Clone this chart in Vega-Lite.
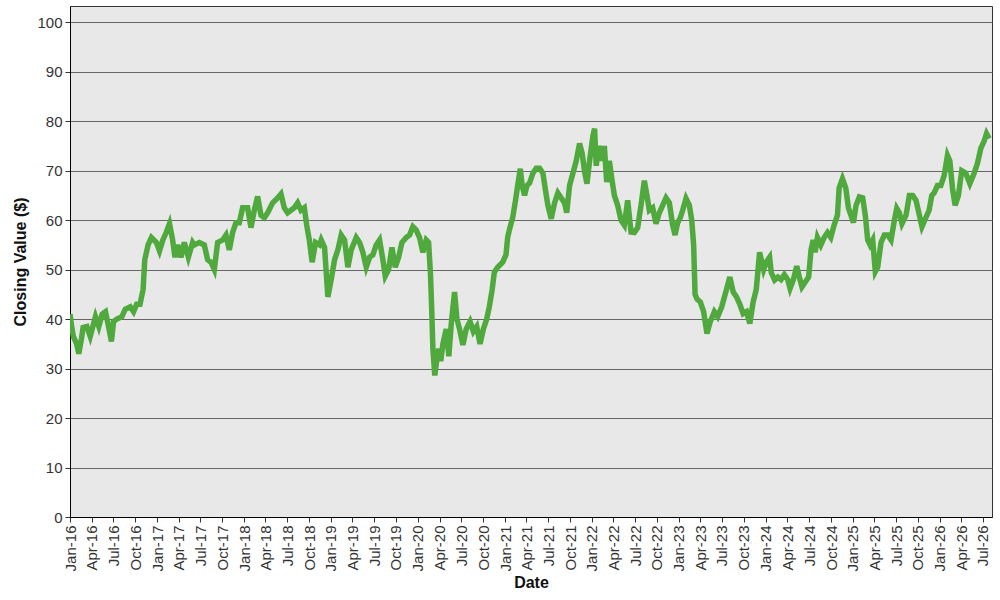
{
  "$schema": "https://vega.github.io/schema/vega-lite/v6.json",
  "description": "Daily closing value, Jan 2016 - Jul 2026",
  "autosize": {"type": "none"},
  "width": 922,
  "height": 511,
  "padding": {"left": 70, "top": 6, "right": 8, "bottom": 83},
  "background": "white",
  "config": {
    "view": {"fill": "#e8e8e8", "stroke": "#333333", "strokeWidth": 1},
    "font": "Liberation Sans",
    "axis": {
      "labelFont": "Liberation Sans",
      "labelFontSize": 15,
      "labelColor": "#333333",
      "titleFont": "Liberation Sans",
      "titleFontSize": 16,
      "titleFontWeight": "bold",
      "titleColor": "#111111",
      "domainColor": "#000000",
      "tickColor": "#333333",
      "tickSize": 5
    }
  },
  "data": {
    "values": [
      {"date": "2016-01-01", "close": 41},
      {"date": "2016-01-08", "close": 38.5},
      {"date": "2016-01-15", "close": 36.5},
      {"date": "2016-01-29", "close": 35},
      {"date": "2016-02-07", "close": 33},
      {"date": "2016-02-18", "close": 36},
      {"date": "2016-02-25", "close": 38.3},
      {"date": "2016-03-12", "close": 38.5},
      {"date": "2016-03-26", "close": 36.5},
      {"date": "2016-04-17", "close": 40.5},
      {"date": "2016-05-01", "close": 38.5},
      {"date": "2016-05-15", "close": 41},
      {"date": "2016-05-29", "close": 41.5},
      {"date": "2016-06-09", "close": 39},
      {"date": "2016-06-23", "close": 35.5},
      {"date": "2016-07-02", "close": 39.5},
      {"date": "2016-07-16", "close": 40},
      {"date": "2016-08-06", "close": 40.5},
      {"date": "2016-08-20", "close": 42},
      {"date": "2016-09-10", "close": 42.5},
      {"date": "2016-09-24", "close": 41.5},
      {"date": "2016-10-07", "close": 43},
      {"date": "2016-10-21", "close": 43},
      {"date": "2016-11-03", "close": 46},
      {"date": "2016-11-10", "close": 52},
      {"date": "2016-11-24", "close": 55},
      {"date": "2016-12-08", "close": 56.5},
      {"date": "2016-12-29", "close": 55.5},
      {"date": "2017-01-11", "close": 53.8},
      {"date": "2017-01-25", "close": 56},
      {"date": "2017-02-08", "close": 57.5},
      {"date": "2017-02-22", "close": 59.3},
      {"date": "2017-03-07", "close": 56},
      {"date": "2017-03-17", "close": 52.5},
      {"date": "2017-03-28", "close": 55},
      {"date": "2017-04-11", "close": 52.5},
      {"date": "2017-04-25", "close": 55.5},
      {"date": "2017-05-12", "close": 52.5},
      {"date": "2017-05-30", "close": 55.5},
      {"date": "2017-06-06", "close": 55},
      {"date": "2017-06-27", "close": 55.5},
      {"date": "2017-07-18", "close": 55},
      {"date": "2017-08-01", "close": 52},
      {"date": "2017-08-15", "close": 51.5},
      {"date": "2017-08-29", "close": 50},
      {"date": "2017-09-12", "close": 55.5},
      {"date": "2017-10-03", "close": 56},
      {"date": "2017-10-17", "close": 57},
      {"date": "2017-10-31", "close": 54},
      {"date": "2017-11-14", "close": 57.5},
      {"date": "2017-11-28", "close": 59.5},
      {"date": "2017-12-12", "close": 59.5},
      {"date": "2017-12-26", "close": 62.5},
      {"date": "2018-01-16", "close": 62.5},
      {"date": "2018-01-30", "close": 58.5},
      {"date": "2018-02-13", "close": 62},
      {"date": "2018-02-27", "close": 64.8},
      {"date": "2018-03-13", "close": 61},
      {"date": "2018-03-27", "close": 60.5},
      {"date": "2018-04-10", "close": 61.5},
      {"date": "2018-05-01", "close": 63.5},
      {"date": "2018-05-22", "close": 64.5},
      {"date": "2018-06-05", "close": 65.3},
      {"date": "2018-06-19", "close": 62.5},
      {"date": "2018-07-03", "close": 61.5},
      {"date": "2018-07-17", "close": 62},
      {"date": "2018-07-31", "close": 62.5},
      {"date": "2018-08-14", "close": 63.5},
      {"date": "2018-08-28", "close": 62},
      {"date": "2018-09-11", "close": 62.5},
      {"date": "2018-09-21", "close": 59},
      {"date": "2018-10-02", "close": 56},
      {"date": "2018-10-14", "close": 51.5},
      {"date": "2018-10-28", "close": 55.5},
      {"date": "2018-11-14", "close": 55},
      {"date": "2018-11-21", "close": 56},
      {"date": "2018-12-05", "close": 54.5},
      {"date": "2018-12-19", "close": 44.5},
      {"date": "2019-01-02", "close": 48},
      {"date": "2019-01-16", "close": 52},
      {"date": "2019-01-30", "close": 54},
      {"date": "2019-02-13", "close": 57},
      {"date": "2019-02-27", "close": 56},
      {"date": "2019-03-13", "close": 50.5},
      {"date": "2019-03-27", "close": 54},
      {"date": "2019-04-17", "close": 56.5},
      {"date": "2019-05-01", "close": 55.5},
      {"date": "2019-05-15", "close": 53.5},
      {"date": "2019-05-29", "close": 50.5},
      {"date": "2019-06-12", "close": 52.5},
      {"date": "2019-06-26", "close": 53},
      {"date": "2019-07-10", "close": 55},
      {"date": "2019-07-24", "close": 56},
      {"date": "2019-08-07", "close": 52},
      {"date": "2019-08-17", "close": 48.7},
      {"date": "2019-08-31", "close": 50},
      {"date": "2019-09-14", "close": 54.5},
      {"date": "2019-09-28", "close": 50.5},
      {"date": "2019-10-12", "close": 52.5},
      {"date": "2019-10-26", "close": 55.5},
      {"date": "2019-11-13", "close": 56.5},
      {"date": "2019-11-27", "close": 57},
      {"date": "2019-12-11", "close": 58.7},
      {"date": "2019-12-25", "close": 58},
      {"date": "2020-01-08", "close": 56.5},
      {"date": "2020-01-22", "close": 53.5},
      {"date": "2020-02-05", "close": 56},
      {"date": "2020-02-15", "close": 55.5},
      {"date": "2020-02-23", "close": 49},
      {"date": "2020-02-28", "close": 42},
      {"date": "2020-03-04", "close": 34},
      {"date": "2020-03-12", "close": 28.6},
      {"date": "2020-03-21", "close": 32},
      {"date": "2020-03-29", "close": 34},
      {"date": "2020-04-06", "close": 31.5},
      {"date": "2020-04-15", "close": 35},
      {"date": "2020-04-29", "close": 38},
      {"date": "2020-05-10", "close": 32.5},
      {"date": "2020-05-20", "close": 39},
      {"date": "2020-06-03", "close": 45.5},
      {"date": "2020-06-13", "close": 40},
      {"date": "2020-06-24", "close": 38},
      {"date": "2020-07-08", "close": 34.8},
      {"date": "2020-07-22", "close": 38},
      {"date": "2020-08-07", "close": 39.5},
      {"date": "2020-08-21", "close": 37.5},
      {"date": "2020-09-04", "close": 38.5},
      {"date": "2020-09-18", "close": 35},
      {"date": "2020-10-02", "close": 38},
      {"date": "2020-10-16", "close": 40},
      {"date": "2020-10-27", "close": 42.5},
      {"date": "2020-11-08", "close": 46},
      {"date": "2020-11-17", "close": 49.5},
      {"date": "2020-12-01", "close": 50.5},
      {"date": "2020-12-22", "close": 51.5},
      {"date": "2021-01-05", "close": 53},
      {"date": "2021-01-12", "close": 56.5},
      {"date": "2021-01-19", "close": 58},
      {"date": "2021-02-02", "close": 60.5},
      {"date": "2021-02-14", "close": 64},
      {"date": "2021-02-23", "close": 67},
      {"date": "2021-03-06", "close": 70.4},
      {"date": "2021-03-14", "close": 67},
      {"date": "2021-03-24", "close": 65},
      {"date": "2021-04-03", "close": 67},
      {"date": "2021-04-14", "close": 67.5},
      {"date": "2021-04-28", "close": 69.5},
      {"date": "2021-05-12", "close": 70.5},
      {"date": "2021-05-26", "close": 70.5},
      {"date": "2021-06-09", "close": 69.5},
      {"date": "2021-06-20", "close": 66},
      {"date": "2021-06-30", "close": 63},
      {"date": "2021-07-14", "close": 60.3},
      {"date": "2021-07-28", "close": 63.5},
      {"date": "2021-08-11", "close": 65.5},
      {"date": "2021-08-25", "close": 64.5},
      {"date": "2021-09-08", "close": 63.5},
      {"date": "2021-09-17", "close": 61.5},
      {"date": "2021-09-29", "close": 67},
      {"date": "2021-10-13", "close": 69.5},
      {"date": "2021-10-27", "close": 72},
      {"date": "2021-11-10", "close": 75.5},
      {"date": "2021-11-21", "close": 73.5},
      {"date": "2021-12-01", "close": 69.8},
      {"date": "2021-12-11", "close": 67.4},
      {"date": "2021-12-22", "close": 72},
      {"date": "2022-01-05", "close": 77},
      {"date": "2022-01-12", "close": 78.5},
      {"date": "2022-01-19", "close": 71},
      {"date": "2022-01-23", "close": 73},
      {"date": "2022-02-01", "close": 75},
      {"date": "2022-02-11", "close": 72},
      {"date": "2022-02-22", "close": 75},
      {"date": "2022-03-04", "close": 67.7},
      {"date": "2022-03-15", "close": 72},
      {"date": "2022-03-25", "close": 68.5},
      {"date": "2022-04-05", "close": 65},
      {"date": "2022-04-19", "close": 63},
      {"date": "2022-05-03", "close": 60},
      {"date": "2022-05-17", "close": 59},
      {"date": "2022-05-31", "close": 64},
      {"date": "2022-06-14", "close": 57.6},
      {"date": "2022-06-28", "close": 57.5},
      {"date": "2022-07-12", "close": 58.5},
      {"date": "2022-07-26", "close": 63},
      {"date": "2022-08-09", "close": 68},
      {"date": "2022-08-20", "close": 65},
      {"date": "2022-08-30", "close": 62},
      {"date": "2022-09-13", "close": 62.5},
      {"date": "2022-09-27", "close": 59.3},
      {"date": "2022-10-11", "close": 61.5},
      {"date": "2022-10-25", "close": 63},
      {"date": "2022-11-08", "close": 64.5},
      {"date": "2022-11-22", "close": 63.5},
      {"date": "2022-12-06", "close": 59},
      {"date": "2022-12-16", "close": 57},
      {"date": "2022-12-27", "close": 59.5},
      {"date": "2023-01-07", "close": 60.5},
      {"date": "2023-01-17", "close": 62},
      {"date": "2023-01-31", "close": 64.4},
      {"date": "2023-02-14", "close": 63},
      {"date": "2023-02-24", "close": 60},
      {"date": "2023-03-04", "close": 55},
      {"date": "2023-03-10", "close": 45},
      {"date": "2023-03-19", "close": 44},
      {"date": "2023-04-01", "close": 43.5},
      {"date": "2023-04-15", "close": 41.5},
      {"date": "2023-04-29", "close": 37.1},
      {"date": "2023-05-13", "close": 39.5},
      {"date": "2023-05-30", "close": 41.5},
      {"date": "2023-06-13", "close": 40.5},
      {"date": "2023-06-30", "close": 42.5},
      {"date": "2023-07-20", "close": 46},
      {"date": "2023-08-03", "close": 48.5},
      {"date": "2023-08-17", "close": 45.5},
      {"date": "2023-08-31", "close": 44.5},
      {"date": "2023-09-14", "close": 43},
      {"date": "2023-09-28", "close": 41.1},
      {"date": "2023-10-12", "close": 41.5},
      {"date": "2023-10-26", "close": 39.1},
      {"date": "2023-11-09", "close": 43.5},
      {"date": "2023-11-22", "close": 46},
      {"date": "2023-12-06", "close": 53.5},
      {"date": "2023-12-23", "close": 50},
      {"date": "2024-01-03", "close": 51.5},
      {"date": "2024-01-17", "close": 52.5},
      {"date": "2024-01-24", "close": 49.4},
      {"date": "2024-02-07", "close": 47.9},
      {"date": "2024-02-21", "close": 48.5},
      {"date": "2024-03-05", "close": 48},
      {"date": "2024-03-19", "close": 49},
      {"date": "2024-04-02", "close": 48},
      {"date": "2024-04-12", "close": 46.2},
      {"date": "2024-04-26", "close": 48},
      {"date": "2024-05-10", "close": 50.7},
      {"date": "2024-05-21", "close": 48.5},
      {"date": "2024-06-01", "close": 46.5},
      {"date": "2024-06-15", "close": 47.5},
      {"date": "2024-06-29", "close": 48.5},
      {"date": "2024-07-09", "close": 54},
      {"date": "2024-07-18", "close": 56},
      {"date": "2024-07-26", "close": 53.5},
      {"date": "2024-08-05", "close": 56.5},
      {"date": "2024-08-19", "close": 55},
      {"date": "2024-09-02", "close": 56.5},
      {"date": "2024-09-16", "close": 57.5},
      {"date": "2024-09-30", "close": 56.5},
      {"date": "2024-10-14", "close": 59},
      {"date": "2024-10-28", "close": 61},
      {"date": "2024-11-04", "close": 66.5},
      {"date": "2024-11-18", "close": 68.4},
      {"date": "2024-12-02", "close": 66.5},
      {"date": "2024-12-13", "close": 62.5},
      {"date": "2025-01-03", "close": 59.5},
      {"date": "2025-01-14", "close": 63},
      {"date": "2025-01-28", "close": 64.7},
      {"date": "2025-02-11", "close": 64.5},
      {"date": "2025-02-22", "close": 61},
      {"date": "2025-03-04", "close": 56},
      {"date": "2025-03-14", "close": 55},
      {"date": "2025-03-25", "close": 56},
      {"date": "2025-04-05", "close": 49.6},
      {"date": "2025-04-15", "close": 50.5},
      {"date": "2025-04-29", "close": 55.5},
      {"date": "2025-05-13", "close": 57},
      {"date": "2025-05-27", "close": 57},
      {"date": "2025-06-10", "close": 56},
      {"date": "2025-06-24", "close": 60},
      {"date": "2025-07-04", "close": 62.4},
      {"date": "2025-07-15", "close": 61.5},
      {"date": "2025-07-26", "close": 59.3},
      {"date": "2025-08-12", "close": 61},
      {"date": "2025-08-26", "close": 65},
      {"date": "2025-09-09", "close": 65},
      {"date": "2025-09-23", "close": 64},
      {"date": "2025-10-07", "close": 61},
      {"date": "2025-10-18", "close": 58.7},
      {"date": "2025-11-03", "close": 60.5},
      {"date": "2025-11-17", "close": 62},
      {"date": "2025-11-28", "close": 65},
      {"date": "2025-12-08", "close": 65.5},
      {"date": "2025-12-22", "close": 67},
      {"date": "2026-01-05", "close": 67},
      {"date": "2026-01-19", "close": 69},
      {"date": "2026-02-02", "close": 73.1},
      {"date": "2026-02-12", "close": 72},
      {"date": "2026-02-23", "close": 66.5},
      {"date": "2026-03-06", "close": 63},
      {"date": "2026-03-20", "close": 65},
      {"date": "2026-04-03", "close": 70},
      {"date": "2026-04-20", "close": 69.5},
      {"date": "2026-05-07", "close": 67.4},
      {"date": "2026-05-25", "close": 69.5},
      {"date": "2026-06-08", "close": 71.5},
      {"date": "2026-06-22", "close": 74.5},
      {"date": "2026-07-06", "close": 76},
      {"date": "2026-07-16", "close": 77.5},
      {"date": "2026-07-27", "close": 76.5}
    ]
  },
  "mark": {"type": "line", "color": "#4fa93d", "strokeWidth": 5.5, "strokeJoin": "miter", "clip": true},
  "encoding": {
    "x": {
      "field": "date",
      "type": "temporal",
      "title": "Date",
      "scale": {
        "type": "utc",
        "domain": [
          {"year": 2016, "month": 1, "date": 1, "utc": true},
          {"year": 2026, "month": 8, "date": 8, "utc": true}
        ]
      },
      "axis": {
        "labelExpr": "utcFormat(datum.value, '%b-%y')",
        "labelAngle": -90,
        "labelPadding": 3,
        "titlePadding": 4,
        "grid": false,
        "values": [
          {"year": 2016, "month": 1, "date": 1, "utc": true},
          {"year": 2016, "month": 4, "date": 1, "utc": true},
          {"year": 2016, "month": 7, "date": 1, "utc": true},
          {"year": 2016, "month": 10, "date": 1, "utc": true},
          {"year": 2017, "month": 1, "date": 1, "utc": true},
          {"year": 2017, "month": 4, "date": 1, "utc": true},
          {"year": 2017, "month": 7, "date": 1, "utc": true},
          {"year": 2017, "month": 10, "date": 1, "utc": true},
          {"year": 2018, "month": 1, "date": 1, "utc": true},
          {"year": 2018, "month": 4, "date": 1, "utc": true},
          {"year": 2018, "month": 7, "date": 1, "utc": true},
          {"year": 2018, "month": 10, "date": 1, "utc": true},
          {"year": 2019, "month": 1, "date": 1, "utc": true},
          {"year": 2019, "month": 4, "date": 1, "utc": true},
          {"year": 2019, "month": 7, "date": 1, "utc": true},
          {"year": 2019, "month": 10, "date": 1, "utc": true},
          {"year": 2020, "month": 1, "date": 1, "utc": true},
          {"year": 2020, "month": 4, "date": 1, "utc": true},
          {"year": 2020, "month": 7, "date": 1, "utc": true},
          {"year": 2020, "month": 10, "date": 1, "utc": true},
          {"year": 2021, "month": 1, "date": 1, "utc": true},
          {"year": 2021, "month": 4, "date": 1, "utc": true},
          {"year": 2021, "month": 7, "date": 1, "utc": true},
          {"year": 2021, "month": 10, "date": 1, "utc": true},
          {"year": 2022, "month": 1, "date": 1, "utc": true},
          {"year": 2022, "month": 4, "date": 1, "utc": true},
          {"year": 2022, "month": 7, "date": 1, "utc": true},
          {"year": 2022, "month": 10, "date": 1, "utc": true},
          {"year": 2023, "month": 1, "date": 1, "utc": true},
          {"year": 2023, "month": 4, "date": 1, "utc": true},
          {"year": 2023, "month": 7, "date": 1, "utc": true},
          {"year": 2023, "month": 10, "date": 1, "utc": true},
          {"year": 2024, "month": 1, "date": 1, "utc": true},
          {"year": 2024, "month": 4, "date": 1, "utc": true},
          {"year": 2024, "month": 7, "date": 1, "utc": true},
          {"year": 2024, "month": 10, "date": 1, "utc": true},
          {"year": 2025, "month": 1, "date": 1, "utc": true},
          {"year": 2025, "month": 4, "date": 1, "utc": true},
          {"year": 2025, "month": 7, "date": 1, "utc": true},
          {"year": 2025, "month": 10, "date": 1, "utc": true},
          {"year": 2026, "month": 1, "date": 1, "utc": true},
          {"year": 2026, "month": 4, "date": 1, "utc": true},
          {"year": 2026, "month": 7, "date": 1, "utc": true}
        ]
      }
    },
    "y": {
      "field": "close",
      "type": "quantitative",
      "title": "Closing Value ($)",
      "scale": {"domain": [0, 103.3], "nice": false, "zero": true},
      "axis": {
        "values": [0, 10, 20, 30, 40, 50, 60, 70, 80, 90, 100],
        "grid": true,
        "gridColor": "#666666",
        "gridOpacity": 1,
        "gridWidth": 1,
        "labelPadding": 3,
        "titlePadding": 8
      }
    }
  }
}
